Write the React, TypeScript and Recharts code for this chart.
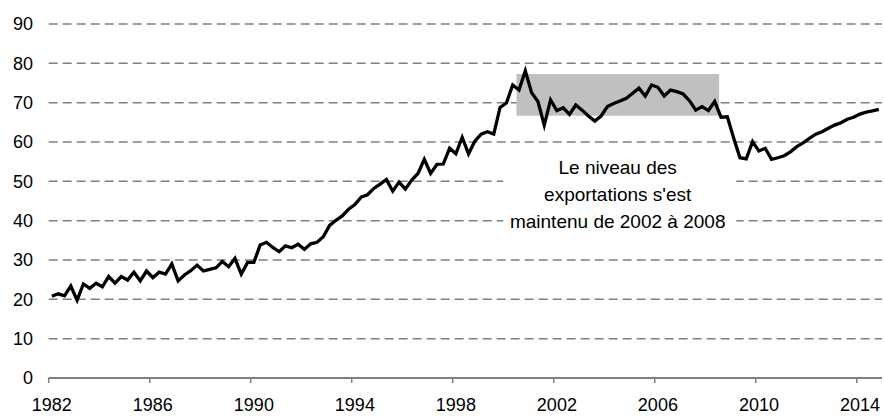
import React from 'react';
import { LineChart, Line, XAxis, YAxis, CartesianGrid, ReferenceArea, Label } from 'recharts';

const START_YEAR = 1982;
const QUARTERS_PER_YEAR = 4;

// Quarterly values, 1982 Q1 to 2014 Q4
const values: number[] = [
  20.8, 21.4, 20.9, 23.4, 19.8, 23.9, 22.8, 24.1, 23.2, 25.8, 24.1, 25.8, 24.9, 26.9, 24.7, 27.2,
  25.5, 26.9, 26.4, 29.0, 24.7, 26.2, 27.3, 28.7, 27.2, 27.6, 28.0, 29.6, 28.3, 30.4, 26.4, 29.4,
  29.4, 33.8, 34.5, 33.2, 32.1, 33.6, 33.1, 34.0, 32.7, 34.1, 34.5, 35.9, 38.8, 40.1, 41.2, 42.9,
  44.1, 46.0, 46.6, 48.2, 49.3, 50.5, 47.5, 49.8, 48.0, 50.3, 52.0, 55.6, 52.0, 54.3, 54.4, 58.4,
  57.0, 61.2, 57.0, 60.2, 62.0, 62.6, 62.0, 68.8, 69.9, 74.5, 73.2, 78.1, 72.5, 70.3, 64.3, 70.7,
  68.0, 68.7, 67.0, 69.4, 68.1, 66.6, 65.3, 66.6, 69.0, 69.8, 70.4, 71.1, 72.4, 73.7, 71.7, 74.5,
  73.9, 71.7, 73.2, 72.8, 72.2, 70.5, 68.1, 69.0, 68.0, 70.3, 66.3, 66.4, 61.0, 56.0, 55.7, 60.1,
  57.7, 58.4, 55.6, 56.0, 56.5, 57.5, 58.8, 59.8, 60.9, 62.0, 62.6, 63.5, 64.3, 64.9, 65.8, 66.3,
  67.1, 67.6, 67.9, 68.3,
];

const tickYears: number[] = [1982, 1986, 1990, 1994, 1998, 2002, 2006, 2010, 2014];
const yTicks: number[] = [0, 10, 20, 30, 40, 50, 60, 70, 80, 90];

// Shaded band (in quarter-index units and values)
const bandX: number[] = [73.6, 105.7];
const bandY: number[] = [66.7, 77.3];

// Annotation box (white background behind the text)
const noteX: number[] = [71.5, 108.4];
const noteY: number[] = [35.6, 58];
const noteLines: string[] = ['Le niveau des', "exportations s'est", 'maintenu de 2002 à 2008'];

const data = values.map((v, i) => ({ i, v }));
const xTicks = tickYears.map((y) => (y - START_YEAR) * QUARTERS_PER_YEAR);

const CHART_W = 884;
const CHART_H = 416;
const MARGIN = { top: 24, right: 2, bottom: 8, left: 0 };
const Y_W = 48.7;
const X_H = 30;
const N = values.length;
const PLOT_W = CHART_W - MARGIN.left - MARGIN.right - Y_W;
const HALF_STEP = PLOT_W / N / 2;

const FONT = '"Liberation Sans", Arial, sans-serif';

const XTick = (props: any) => {
  const { x, y, payload } = props;
  const axisY = y - 20;
  const year = START_YEAR + payload.value / QUARTERS_PER_YEAR;
  return (
    <g>
      <line x1={x - HALF_STEP} x2={x - HALF_STEP} y1={axisY} y2={axisY + 5} stroke="#808080" strokeWidth={1.5} />
      <text x={x} y={y} dy="0.71em" textAnchor="middle" fontSize={18} fontFamily={FONT} fill="#000">
        {year}
      </text>
    </g>
  );
};

const NoteContent = (props: any) => {
  const vb = props.viewBox || {};
  const cx = vb.x + vb.width / 2 - 2;
  const top = vb.y + 24;
  return (
    <g>
      {noteLines.map((t, k) => (
        <text key={k} x={cx} y={top + k * 27} textAnchor="middle" fontSize={19} fontFamily={FONT} fill="#000">
          {t}
        </text>
      ))}
    </g>
  );
};

export default function App() {
  return (
    <div style={{ position: 'absolute', left: 0, top: 0, width: CHART_W, height: CHART_H }}>
      <LineChart width={CHART_W} height={CHART_H} data={data} margin={MARGIN}>
        <CartesianGrid vertical={false} stroke="#808080" strokeDasharray="9 5" strokeWidth={1.5} />
        <XAxis
          dataKey="i"
          type="number"
          domain={[-0.5, N - 0.5]}
          ticks={xTicks}
          interval={0}
          height={X_H}
          axisLine={{ stroke: '#808080', strokeWidth: 2 }}
          tickLine={false}
          tickSize={5}
          tickMargin={15}
          tick={<XTick />}
        />
        <YAxis
          type="number"
          domain={[0, 90]}
          ticks={yTicks}
          interval={0}
          width={Y_W}
          axisLine={false}
          tickLine={false}
          tickSize={6}
          tickMargin={9.7}
          tick={{ fontSize: 18, fontFamily: FONT, fill: '#000' }}
        />
        <ReferenceArea x1={noteX[0]} x2={noteX[1]} y1={noteY[0]} y2={noteY[1]} fill="#ffffff" fillOpacity={1} stroke="none">
          <Label content={<NoteContent />} />
        </ReferenceArea>
        <ReferenceArea x1={bandX[0]} x2={bandX[1]} y1={bandY[0]} y2={bandY[1]} fill="#c0c0c0" fillOpacity={1} stroke="none" />
        <Line
          type="linear"
          dataKey="v"
          stroke="#000"
          strokeWidth={3.3}
          dot={false}
          isAnimationActive={false}
        />
      </LineChart>
    </div>
  );
}
